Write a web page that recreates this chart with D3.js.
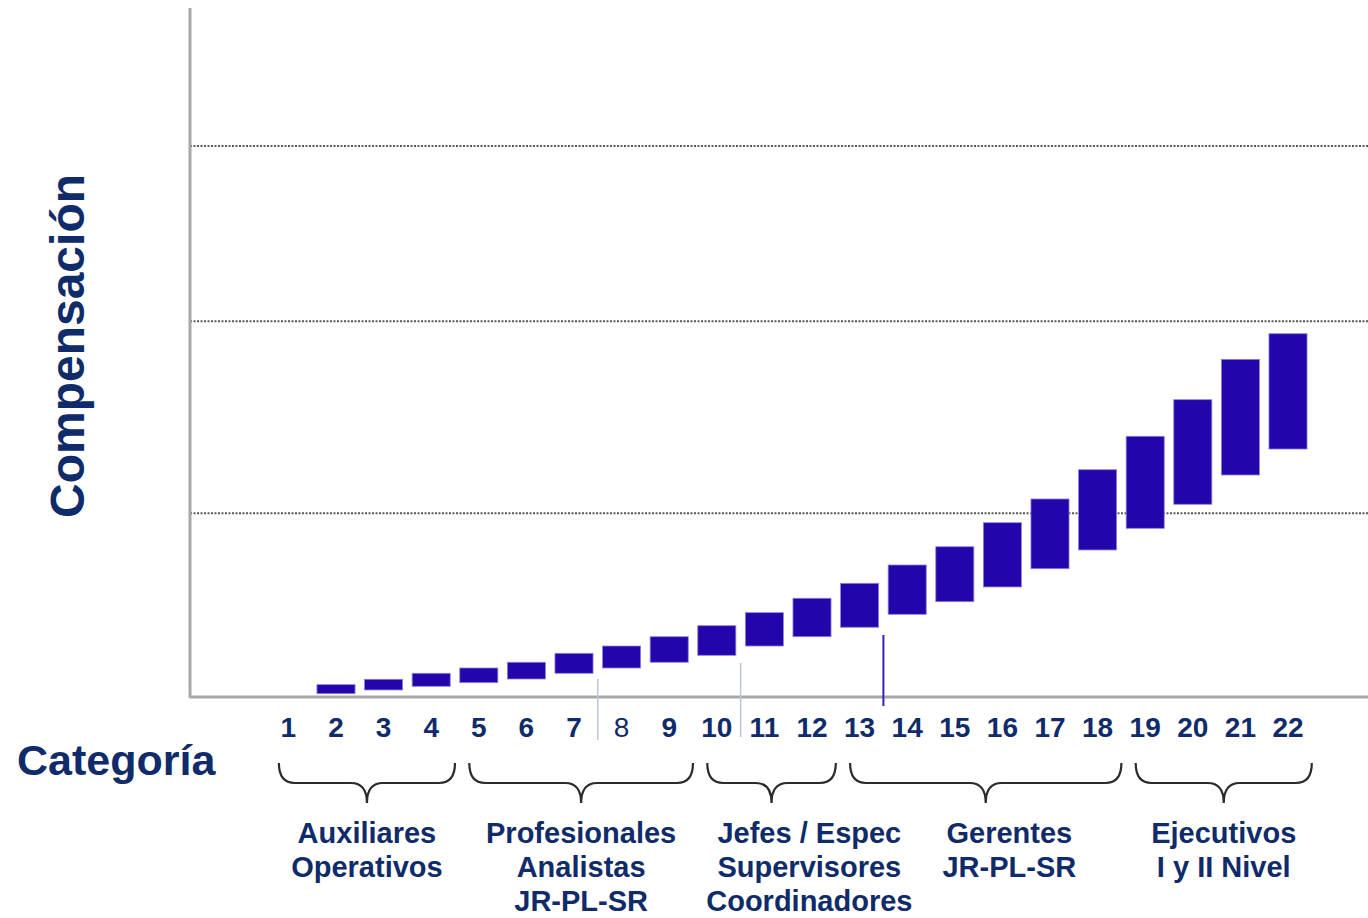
<!DOCTYPE html>
<html lang="es">
<head>
<meta charset="utf-8">
<title>Compensación por categoría</title>
<script src="https://cdn.jsdelivr.net/npm/d3@7"></script>
<style>
  html, body { margin: 0; padding: 0; background: #ffffff; }
  svg { display: block; font-family: 'Liberation Sans', Arial, sans-serif; }
</style>
</head>
<body>
<svg id="chart"></svg>
<script>
// Categories shown on the x-axis
const categories = ['1', '2', '3', '4', '5', '6', '7', '8', '9', '10', '11',
  '12', '13', '14', '15', '16', '17', '18', '19', '20', '21', '22'];

// Band minimum and maximum per category (relative units, category 1 has no band)
const bandMin = [null, 0.48, 1.02, 1.55, 2.08, 2.61, 3.44, 4.21, 5.04, 6.05, 7.40,
  8.75, 10.12, 12.00, 13.83, 15.97, 18.62, 21.34, 24.48, 27.97, 32.22, 35.99];
const bandMax = [null, 1.79, 2.57, 3.44, 4.21, 5.04, 6.34, 7.40, 8.75, 10.35, 12.24,
  14.33, 16.50, 19.16, 21.81, 25.30, 28.74, 32.99, 37.84, 43.15, 49.01, 52.73];

// Dotted reference lines
const gridValues = [26.66, 54.53, 79.97];

// Job family groups under the axis
const groupLabels = [
  ['Auxiliares', 'Operativos'],
  ['Profesionales', 'Analistas', 'JR-PL-SR'],
  ['Jefes / Espec', 'Supervisores', 'Coordinadores'],
  ['Gerentes', 'JR-PL-SR'],
  ['Ejecutivos', 'I y II Nivel'],
];
const groupFirst = ['1', '5', '10', '13', '19'];
const groupLast = ['4', '9', '12', '18', '22'];

// Thin markers drawn between two categories
const markerAfter = ['7', '10', '13'];

const width = 1368;
const height = 918;
const navy = '#0f2b69';
const barColor = '#2405ab';

const data = categories.map((c, i) => ({ cat: c, low: bandMin[i], high: bandMax[i] }));

const svg = d3.select('#chart')
  .attr('width', width)
  .attr('height', height);

svg.append('rect').attr('width', width).attr('height', height).attr('fill', '#ffffff');

// Scales
const axisX = 190;
const baseY = 697;

const xScale = d3.scaleBand()
  .domain(categories)
  .range([264.6, 1311.8])
  .paddingInner(0.2)
  .paddingOuter(0.1);

const yScale = d3.scaleLinear()
  .domain([0, 100])
  .range([baseY, 8]);

const center = (c) => xScale(c) + xScale.bandwidth() / 2;
const step = xScale.step();

// Dotted grid lines
svg.append('g')
  .selectAll('line')
  .data(gridValues)
  .join('line')
  .attr('x1', axisX)
  .attr('x2', width)
  .attr('y1', (d) => yScale(d))
  .attr('y2', (d) => yScale(d))
  .attr('stroke', '#5a5a5a')
  .attr('stroke-width', 2)
  .attr('stroke-dasharray', '2,1.5');

// Axis lines (no ticks on y)
svg.append('line')
  .attr('x1', axisX).attr('x2', axisX)
  .attr('y1', yScale(100)).attr('y2', baseY + 1)
  .attr('stroke', '#a8a8a8')
  .attr('stroke-width', 3);

svg.append('line')
  .attr('x1', axisX).attr('x2', width)
  .attr('y1', baseY).attr('y2', baseY)
  .attr('stroke', '#a8a8a8')
  .attr('stroke-width', 3);

// Marker lines between categories
svg.append('g')
  .selectAll('line')
  .data(markerAfter)
  .join('line')
  .attr('x1', (d) => center(d) + step / 2)
  .attr('x2', (d) => center(d) + step / 2)
  .attr('y1', (d, i) => [679, 663, 635][i])
  .attr('y2', (d, i) => [740, 737, 706][i])
  .attr('stroke', (d, i) => (i === 2 ? '#3a1fb5' : '#b9c9d9'))
  .attr('stroke-width', (d, i) => (i === 2 ? 2 : 1.5));

// Compensation bands
svg.append('g')
  .selectAll('rect')
  .data(data.filter((d) => d.low !== null))
  .join('rect')
  .attr('x', (d) => xScale(d.cat))
  .attr('y', (d) => yScale(d.high))
  .attr('width', xScale.bandwidth())
  .attr('height', (d) => yScale(d.low) - yScale(d.high))
  .attr('fill', barColor)
  .attr('stroke', '#8f84e0')
  .attr('stroke-width', 0.8);

// Category numbers
const xAxisGroup = svg.append('g')
  .attr('transform', `translate(0,${baseY})`)
  .call(d3.axisBottom(xScale).tickSize(0).tickPadding(20));

xAxisGroup.select('.domain').remove();
xAxisGroup.selectAll('text')
  .attr('fill', navy)
  .style('font-size', '28px')
  .style('font-family', "'Liberation Sans', Arial, sans-serif")
  .style('font-weight', (d) => (d === '8' ? 'normal' : 'bold'));

// Axis titles
svg.append('text')
  .attr('transform', `translate(84,346) rotate(-90)`)
  .attr('text-anchor', 'middle')
  .attr('fill', navy)
  .style('font-size', '48px')
  .style('font-weight', 'bold')
  .text('Compensación');

svg.append('text')
  .attr('x', 17)
  .attr('y', 775)
  .attr('fill', navy)
  .style('font-size', '43px')
  .style('font-weight', 'bold')
  .text('Categoría');

// Curly brackets grouping categories
const braceTop = 763;
const braceMid = 783;
const braceTip = 803;
const r = 16;

const bracePath = (x0, x1) => {
  const cx = (x0 + x1) / 2;
  const p = d3.path();
  p.moveTo(x0, braceTop);
  p.quadraticCurveTo(x0, braceMid, x0 + r, braceMid);
  p.lineTo(cx - r, braceMid);
  p.quadraticCurveTo(cx, braceMid, cx, braceTip);
  p.quadraticCurveTo(cx, braceMid, cx + r, braceMid);
  p.lineTo(x1 - r, braceMid);
  p.quadraticCurveTo(x1, braceMid, x1, braceTop);
  return p.toString();
};

// brackets sit a little to the right of the bars, as in the source slide
const groups = groupLabels.map((lines, i) => {
  const x0 = center(groupFirst[i]) - step * 0.2;
  const x1 = center(groupLast[i]) + step * 0.5;
  return { lines, x0, x1, cx: (x0 + x1) / 2 };
});

const groupSel = svg.append('g')
  .selectAll('g')
  .data(groups)
  .join('g');

groupSel.append('path')
  .attr('d', (d) => bracePath(d.x0, d.x1))
  .attr('fill', 'none')
  .attr('stroke', '#2b2b2b')
  .attr('stroke-width', 2.2);

const groupText = groupSel.append('text')
  .attr('text-anchor', 'middle')
  .attr('fill', navy)
  .style('font-size', '29px')
  .style('font-weight', 'bold');

groupText.selectAll('tspan')
  .data((d) => d.lines)
  .join('tspan')
  .attr('y', (d, i) => 843 + i * 34)
  .text((d) => d);

// Center each label block under its bracket, pushing right when it would crowd the previous one
const minGap = 30;
let prevRight = -Infinity;
groupText.each(function (d) {
  const w = d3.max(d3.select(this).selectAll('tspan').nodes(), (n) => n.getComputedTextLength());
  let cx = d.cx;
  if (cx - w / 2 < prevRight + minGap) cx = prevRight + minGap + w / 2;
  prevRight = cx + w / 2;
  d3.select(this).selectAll('tspan').attr('x', cx);
});
</script>
</body>
</html>
